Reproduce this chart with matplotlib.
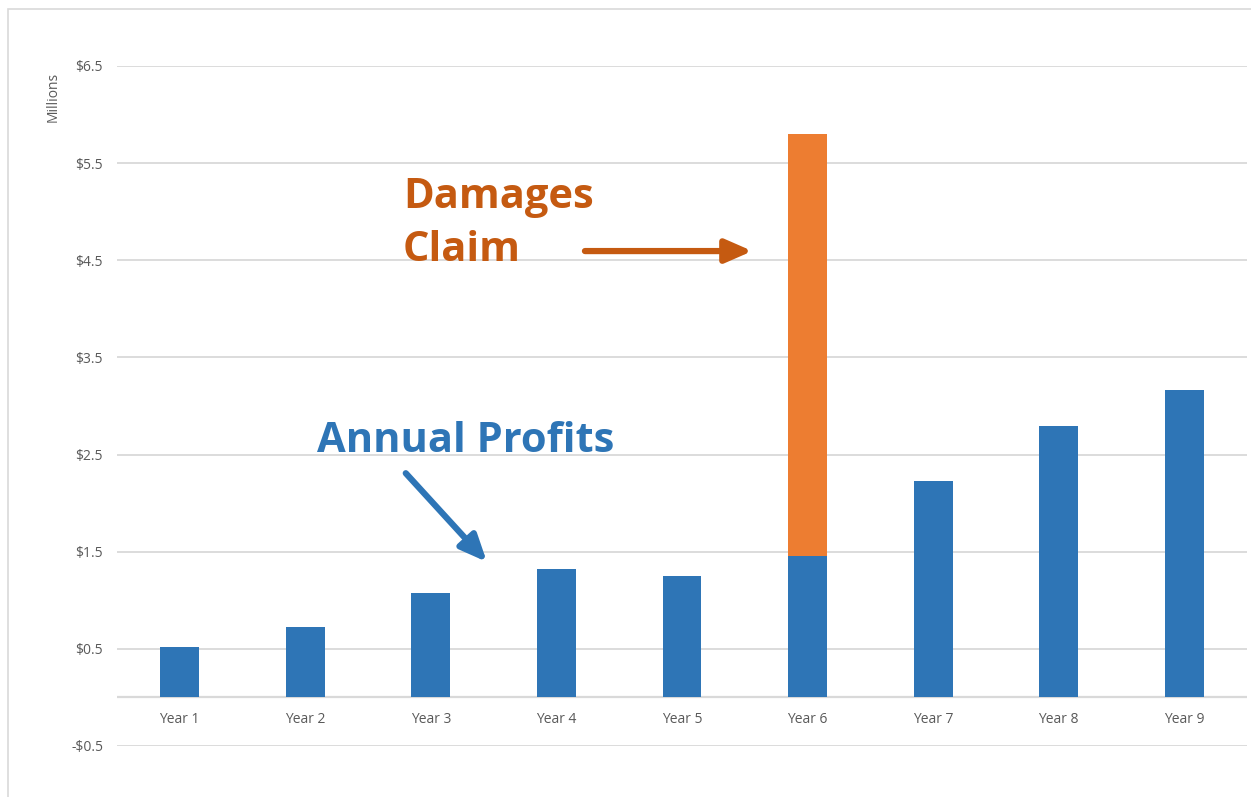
import matplotlib
matplotlib.use("Agg")
import matplotlib.pyplot as plt
from matplotlib.patches import Rectangle

plt.rcParams["font.family"] = ["Open Sans", "DejaVu Sans"]

years = ["Year 1", "Year 2", "Year 3", "Year 4", "Year 5", "Year 6", "Year 7", "Year 8", "Year 9"]
profits = [0.52, 0.72, 1.07, 1.32, 1.25, 1.46, 2.23, 2.79, 3.16]
damages = [0, 0, 0, 0, 0, 4.34, 0, 0, 0]
yticks = [-0.5, 0.5, 1.5, 2.5, 3.5, 4.5, 5.5, 6.5]

BLUE = "#2E75B6"
ORANGE = "#ED7D31"
DARK_ORANGE = "#C55A11"
GRID = "#D9D9D9"
TXT = "#595959"

fig = plt.figure(figsize=(12.51, 7.97), dpi=100)
ax = fig.add_axes([117 / 1251, 1 - 746 / 797, 1130 / 1251, 680 / 797])

x = list(range(len(years)))
ax.bar(x, profits, width=0.31, color=BLUE, zorder=3)
ax.bar(x, damages, width=0.31, bottom=profits, color=ORANGE, zorder=3)

ax.set_xlim(-0.5, len(years) - 0.5)
ax.set_ylim(-0.5, 6.5)
ax.set_yticks(yticks)
ax.set_yticklabels([("-$%.1f" % -v) if v < 0 else ("$%.1f" % v) for v in yticks])
ax.set_xticks(x)
ax.set_xticklabels(years)
ax.tick_params(length=0, colors=TXT, labelsize=10)
ax.tick_params(axis="y", pad=10)
ax.tick_params(axis="x", pad=-24.5)
ax.grid(axis="y", color=GRID, lw=1.3, zorder=0)
ax.axhline(0, color=GRID, lw=1.6, zorder=1)
for s in ax.spines.values():
    s.set_visible(False)
ax.set_ylabel("Millions", color=TXT, fontsize=10)
ax.yaxis.set_label_coords(-0.05, 0.955)

# annotations
ax.text(1.777, 5.036, "Damages", color=DARK_ORANGE, fontsize=30, fontweight="bold", va="baseline")
ax.text(1.777, 4.492, "Claim", color=DARK_ORANGE, fontsize=30, fontweight="bold", va="baseline")
ax.annotate("", xy=(4.56, 4.595), xytext=(3.227, 4.595),
            arrowprops=dict(arrowstyle="-|>,head_length=1.6,head_width=0.7", color=DARK_ORANGE, lw=4.5,
                            shrinkA=0, shrinkB=0))
ax.text(1.09, 2.523, "Annual Profits", color=BLUE, fontsize=30, fontweight="bold", va="baseline")
ax.annotate("", xy=(2.446, 1.395), xytext=(1.80, 2.308),
            arrowprops=dict(arrowstyle="-|>,head_length=1.6,head_width=0.7", color=BLUE, lw=4.5,
                            shrinkA=0, shrinkB=0))

# chart area border
fig.patches.append(Rectangle((8 / 1251, -0.05), 1.1, 1 - 9 / 797 + 0.05, transform=fig.transFigure,
                             fill=False, edgecolor=GRID, lw=1.2))

fig.savefig("out.png", dpi=100)
